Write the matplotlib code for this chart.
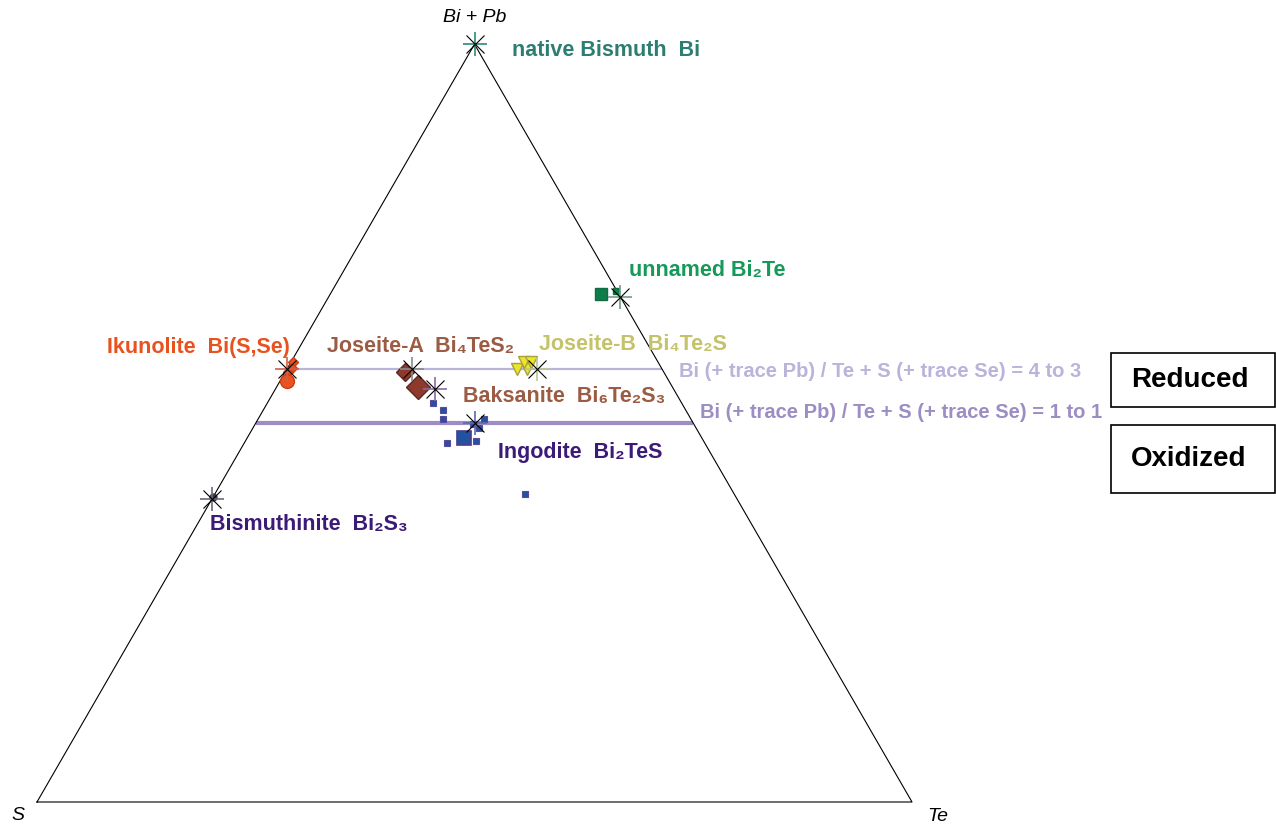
import numpy as np
import matplotlib
matplotlib.use("Agg")
import matplotlib.pyplot as plt
from matplotlib.patches import Rectangle

FONT = ["Liberation Sans", "DejaVu Sans"]
plt.rcParams["font.family"] = FONT

# Ideal end-member compositions (atoms of Bi, Te, S per formula unit)
mineral_names = ["native Bi", "Bi2Te", "Bi4TeS2", "Bi4Te2S", "Bi6Te2S3",
                 "Bi2TeS", "Bi2S3", "Bi4(S,Se)3"]
formula_bi = [1, 2, 4, 4, 6, 2, 2, 4]
formula_te = [0, 1, 1, 2, 2, 1, 0, 0]
formula_s = [0, 0, 2, 1, 3, 1, 3, 3]

# Microprobe analyses, at.% Bi(+Pb) and Te; S(+Se) is the remainder
ikunolite_bi = [58.0, 57.3, 56.7, 55.5]
ikunolite_te = [0.3, 0.5, 0.3, 0.8]
joseite_a_bi = [56.7, 54.7]
joseite_a_te = [13.7, 16.2]
joseite_b_bi = [57.1, 57.1, 58.1, 58.1]
joseite_b_te = [26.3, 27.4, 26.6, 27.4]
ingodite_bi = [52.6, 51.7, 50.6, 47.4, 47.7, 49.3, 50.6, 49.9, 40.7]
ingodite_te = [19.0, 20.5, 21.1, 23.1, 26.3, 25.9, 25.8, 24.9, 35.4]
ingodite_mean_bi = [48.1]
ingodite_mean_te = [24.8]
bi2te_bi = [67.1]
bi2te_te = [30.9]
bi2te_small_bi = [67.5]
bi2te_small_te = [32.4]
bismuthinite_bi = [40.2]
bismuthinite_te = [0.0]

# Bi : (Te + S) ratios of the reference lines
ratio_lines = [(4, 3), (1, 1)]

SQ3 = np.sqrt(3) / 2


def tern(bi, te):
    bi = np.asarray(bi, float)
    te = np.asarray(te, float)
    return te + bi / 2.0, bi * SQ3


def pct(v):
    return np.asarray(v, float) / 100.0


fig = plt.figure(figsize=(12.76, 8.27), dpi=100)
ax = fig.add_axes([0, 0, 1, 1])
ax.set_xlim(-37 / 875, 1239 / 875)
ax.set_ylim(-25 / 875, 802 / 875)
ax.set_aspect("equal")
ax.axis("off")

# triangle frame
ax.plot([0, 1, 0.5, 0], [0, 0, SQ3, 0], color="black", lw=0.8, zorder=2)

ax.text(0.5, SQ3 + 0.03, "Bi + Pb", style="italic", fontsize=14,
        ha="center", va="center")
ax.text(-0.022, -0.015, "S", style="italic", fontsize=14, ha="center", va="center")
ax.text(1.03, -0.017, "Te", style="italic", fontsize=14, ha="center", va="center")

# ratio lines
line_colors = ["#BAB3DA", "#9C8DC4"]
line_widths = [1.6, 3.0]
line_texts = ["Bi (+ trace Pb) / Te + S (+ trace Se) = 4 to 3",
              "Bi (+ trace Pb) / Te + S (+ trace Se) = 1 to 1"]
line_offsets = [(17, -3), (7, 11)]
for (a, b), c, w, t, off in zip(ratio_lines, line_colors, line_widths,
                                line_texts, line_offsets):
    f = a / (a + b)
    x0, y0 = tern(f, 0)
    x1, y1 = tern(f, 1 - f)
    ax.plot([x0, x1], [y0, y1], color=c, lw=w, zorder=1, solid_capstyle="butt")
    ax.annotate(t, (x1, y1), xytext=off, textcoords="offset pixels",
                color=c, fontsize=14.5, fontweight="bold", ha="left", va="center")


def pts(bi, te, **kw):
    x, y = tern(pct(bi), pct(te))
    ax.plot(x, y, linestyle="none", zorder=4, **kw)


# analyses
pts(ikunolite_bi[:3], ikunolite_te[:3], marker="D", ms=5, color="#E8521F", mec="#C8401A")
pts(ikunolite_bi[3:], ikunolite_te[3:], marker="o", ms=10, color="#E8521F", mec="#C8401A")
pts(joseite_a_bi[:1], joseite_a_te[:1], marker="D", ms=9, color="#8B3A2B", mec="#5C2A22")
pts(joseite_a_bi[1:], joseite_a_te[1:], marker="D", ms=12, color="#8B3A2B", mec="#5C2A22")
pts(joseite_b_bi, joseite_b_te, marker="v", ms=9, color="#ECE62A", mec="#A8A040")
pts(ingodite_bi, ingodite_te, marker="s", ms=4.5, color="#2352A0", mec="#5A4A9A", mew=0.8)
pts(ingodite_mean_bi, ingodite_mean_te, marker="s", ms=10, color="#2352A0", mec="#4A3A8A", mew=1.2)
pts(bi2te_bi, bi2te_te, marker="s", ms=9, color="#0F7D4B", mec="#0F6D40")
pts(bi2te_small_bi, bi2te_small_te, marker="s", ms=5, color="#0F7D4B", mec="#0F6D40")
pts(bismuthinite_bi, bismuthinite_te, marker="o", ms=5, color="#3A3A4A")

# ideal compositions: asterisk markers
star_colors = ["#2E8B7A", "#6E9E86", "#8A8A8A", "#B8C890", "#8A6AA8",
               "#5A6AB0", "#6A6A7A", "#D06048"]
fb = np.array(formula_bi, float)
ft = np.array(formula_te, float)
fs = np.array(formula_s, float)
tot = fb + ft + fs
sx, sy = tern(fb / tot, ft / tot)
for x, y, c in zip(sx, sy, star_colors):
    ax.plot(x, y, marker="+", ms=17, mew=1.2, color=c, zorder=5)
    ax.plot(x, y, marker="x", ms=13, mew=0.8, color="black", zorder=5)

# mineral labels: (index, text, colour, offset in pixels, ha)
labels = [
    (0, "native Bismuth  Bi", "#2E7D72", (37, -6), "left"),
    (1, "unnamed Bi\u2082Te", "#17995A", (9, 26), "left"),
    (7, "Ikunolite  Bi(S,Se)", "#E8521F", (3, 21), "right"),
    (2, "Joseite-A  Bi\u2084TeS\u2082", "#9C5B43", (-85, 22), "left"),
    (3, "Joseite-B  Bi\u2084Te\u2082S", "#C4C26A", (2, 24), "left"),
    (4, "Baksanite  Bi\u2086Te\u2082S\u2083", "#9C5B43", (28, -8), "left"),
    (5, "Ingodite  Bi\u2082TeS", "#3B1A78", (24, -29), "left"),
    (6, "Bismuthinite  Bi\u2082S\u2083", "#3B1A78", (-2, -26), "left"),
]
for i, t, c, off, ha in labels:
    ax.annotate(t, (sx[i], sy[i]), xytext=off, textcoords="offset pixels",
                color=c, fontsize=15.5, fontweight="bold", ha=ha, va="center",
                zorder=6)

# redox boxes
for y0, y1, t in [(353, 407, "Reduced"), (425, 493, "Oxidized")]:
    ax.add_patch(Rectangle((1111 / 1276, 1 - y1 / 827), 164 / 1276, (y1 - y0) / 827,
                           transform=ax.transAxes, fill=False, ec="black", lw=1.2,
                           clip_on=False))
    ax.text(1131 / 1276, 1 - (y0 + y1) / 2 / 827, t, transform=ax.transAxes,
            fontsize=20, fontweight="bold", ha="left", va="center")

fig.savefig("out.png", dpi=100)
